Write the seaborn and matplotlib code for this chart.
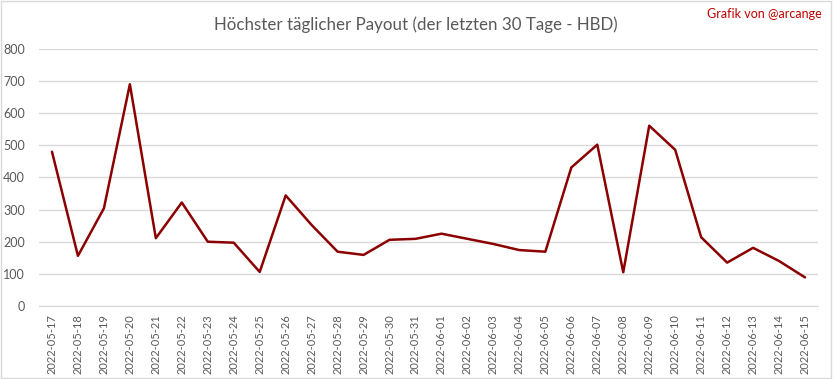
import matplotlib
matplotlib.use("Agg")
import matplotlib.pyplot as plt
import pandas as pd
import seaborn as sns

dates = [
    "2022-05-17", "2022-05-18", "2022-05-19", "2022-05-20", "2022-05-21",
    "2022-05-22", "2022-05-23", "2022-05-24", "2022-05-25", "2022-05-26",
    "2022-05-27", "2022-05-28", "2022-05-29", "2022-05-30", "2022-05-31",
    "2022-06-01", "2022-06-02", "2022-06-03", "2022-06-04", "2022-06-05",
    "2022-06-06", "2022-06-07", "2022-06-08", "2022-06-09", "2022-06-10",
    "2022-06-11", "2022-06-12", "2022-06-13", "2022-06-14", "2022-06-15",
]
payout = [
    480, 156, 304, 690, 211, 322, 200, 197, 106, 344,
    252, 169, 159, 206, 209, 225, 209, 193, 174, 169,
    431, 502, 105, 561, 486, 214, 135, 181, 140, 89,
]
y_ticks = [0, 100, 200, 300, 400, 500, 600, 700, 800]

df = pd.DataFrame({"date": dates, "payout": payout})

sns.set_style("white")
plt.rcParams["font.family"] = ["Lato", "DejaVu Sans"]

fig = plt.figure(figsize=(8.33, 3.79), dpi=100)
ax = fig.add_axes([0.0468, 0.1926, 0.9352, 0.6784])

sns.lineplot(data=df, x="date", y="payout", ax=ax, color="#8B0000",
             linewidth=1.8, sort=False)

ax.set_ylim(0, 800)
ax.set_xlim(-0.5, len(dates) - 0.5)
ax.set_yticks(y_ticks)
ax.yaxis.grid(True, color="#d9d9d9", linewidth=1)
ax.set_axisbelow(True)
ax.set_xlabel("")
ax.set_ylabel("")
ax.set_xticks(range(len(dates)))
ax.set_xticklabels(dates, rotation=90)
ax.tick_params(axis="y", colors="#595959", labelsize=9, length=0, pad=10)
ax.tick_params(axis="x", colors="#595959", labelsize=8, length=0, pad=6)
for s in ["top", "right", "left"]:
    ax.spines[s].set_visible(False)
ax.spines["bottom"].set_color("#d9d9d9")

fig.text(0.4994, 0.936, "Höchster täglicher Payout (der letzten 30 Tage - HBD)",
         ha="center", va="center", fontsize=12.2, color="#595959")
fig.text(0.986, 0.962, "Grafik von @arcange", ha="right", va="center",
         fontsize=9, color="#c00000")

fig.patches.append(plt.Rectangle((0.001, 0.002), 0.997, 0.995, transform=fig.transFigure,
                                 fill=False, edgecolor="#d9d9d9", linewidth=1))

fig.savefig("out.png", dpi=100, facecolor="white")
